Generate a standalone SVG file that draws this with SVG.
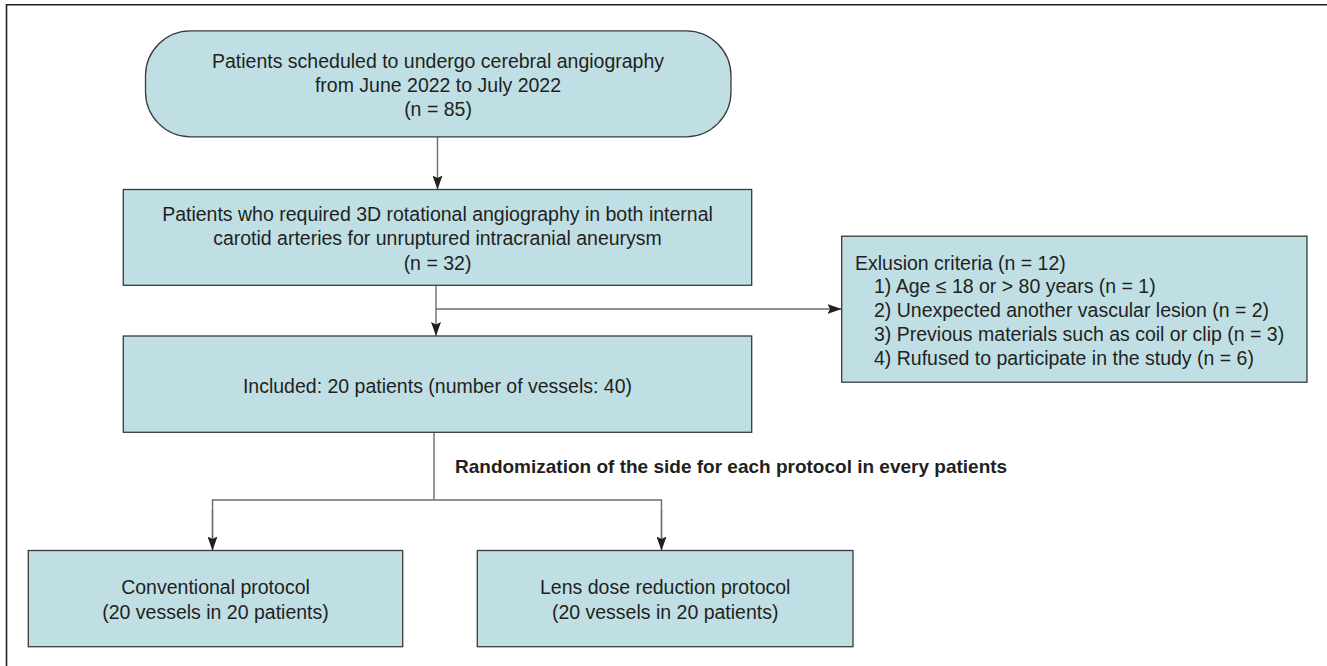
<svg xmlns="http://www.w3.org/2000/svg" width="1327" height="666" viewBox="0 0 1327 666">
<defs>
<style>
.box{fill:#bfdfe5;stroke:#3a3a3a;stroke-width:1.3}
.t{font-family:"Liberation Sans",Arial,sans-serif;font-size:19.5px;fill:#231f20}
.c{text-anchor:middle}
.b{font-weight:bold;font-size:19px}
.ln{fill:none;stroke:#6d6d6d;stroke-width:1.4}
.frame{fill:none;stroke:#231f20;stroke-width:1.6}
</style>
<marker id="ah" viewBox="0 0 14 10" refX="14" refY="5" markerWidth="14" markerHeight="10" markerUnits="userSpaceOnUse" orient="auto">
<path d="M0,0 L14,5 L0,10 L2.5,5 z" fill="#231f20"/>
</marker>
</defs>
<rect width="1327" height="666" fill="#ffffff"/>
<path class="frame" d="M6.5,666 L6.5,4.8 L1327,4.8"/>

<g id="connectors">
<line class="ln" x1="437.5" y1="137" x2="437.5" y2="189.5" marker-end="url(#ah)"/>
<line class="ln" x1="436" y1="285.5" x2="436" y2="336" marker-end="url(#ah)"/>
<line class="ln" x1="436" y1="309" x2="841.5" y2="309" marker-end="url(#ah)"/>
<line class="ln" x1="434" y1="432.5" x2="434" y2="500"/>
<path class="ln" d="M212.5,550.5 L212.5,500 L661.5,500 L661.5,550.5"/>
<line class="ln" x1="212.5" y1="510" x2="212.5" y2="550.5" marker-end="url(#ah)"/>
<line class="ln" x1="661.5" y1="510" x2="661.5" y2="550.5" marker-end="url(#ah)"/>
<text class="t b" x="455" y="473">Randomization of the side for each protocol in every patients</text>
</g>

<g id="start">
<rect class="box" x="145.5" y="30.8" width="585.5" height="106" rx="45" ry="45"/>
<text class="t c" x="438" y="68">Patients scheduled to undergo cerebral angiography</text>
<text class="t c" x="438" y="92">from June 2022 to July 2022</text>
<text class="t c" x="438" y="115.5">(n = 85)</text>
</g>

<g id="required">
<rect class="box" x="123.3" y="189.5" width="628.4" height="95.8"/>
<text class="t c" x="437.5" y="221">Patients who required 3D rotational angiography in both internal</text>
<text class="t c" x="437.5" y="245">carotid arteries for unruptured intracranial aneurysm</text>
<text class="t c" x="437.5" y="269.5">(n = 32)</text>
</g>

<g id="exclusion">
<rect class="box" x="841.7" y="236.2" width="465.3" height="146"/>
<text class="t" x="855" y="269.5">Exlusion criteria (n = 12)</text>
<text class="t" x="874" y="293">1) Age ≤ 18 or &gt; 80 years (n = 1)</text>
<text class="t" x="874" y="317">2) Unexpected another vascular lesion (n = 2)</text>
<text class="t" x="874" y="341">3) Previous materials such as coil or clip (n = 3)</text>
<text class="t" x="874" y="365">4) Rufused to participate in the study (n = 6)</text>
</g>

<g id="included">
<rect class="box" x="123.3" y="336" width="628.4" height="96.3"/>
<text class="t c" x="437.5" y="393">Included: 20 patients (number of vessels: 40)</text>
</g>

<g id="conventional">
<rect class="box" x="28.3" y="550.5" width="374.4" height="96.2"/>
<text class="t c" x="215.5" y="593.5">Conventional protocol</text>
<text class="t c" x="215.5" y="618.5">(20 vessels in 20 patients)</text>
</g>

<g id="lens">
<rect class="box" x="477.3" y="550.5" width="375.7" height="96.2"/>
<text class="t c" x="665.2" y="593.5">Lens dose reduction protocol</text>
<text class="t c" x="665.2" y="618.5">(20 vessels in 20 patients)</text>
</g>
</svg>
